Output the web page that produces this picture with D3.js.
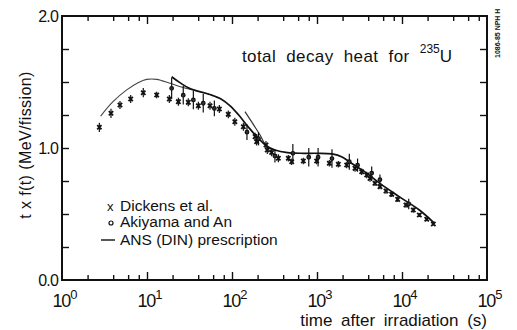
<!DOCTYPE html>
<html>
<head>
<meta charset="utf-8">
<script src="https://cdn.jsdelivr.net/npm/d3@7"></script>
<style>
  body { margin: 0; background: #fff; }
  svg text { font-family: "Liberation Sans", Arial, sans-serif; fill: #111; }
</style>
</head>
<body>
<svg id="chart" width="517" height="330"></svg>
<script>
// decade ticks and labels
const decades = [0, 1, 2, 3, 4, 5];
const minorMults = [2, 4, 6, 8];
const yTicks = [0, 0.25, 0.5, 0.75, 1.0, 1.25, 1.5, 1.75, 2.0];
const yLabels = ["0.0", "1.0", "2.0"];

// Dickens et al. : [time (s), t*f(t), error]
const dickens = [
  [2.75, 1.157, 0.035], [3.77, 1.263, 0.035], [4.81, 1.326, 0.03], [6.43, 1.371, 0.03],
  [9.04, 1.419, 0.035], [13.0, 1.402, 0.025], [18.3, 1.371, 0.03], [23.4, 1.351, 0.03],
  [30.6, 1.346, 0.03], [40.2, 1.32, 0.03], [55.1, 1.32, 0.03], [71.0, 1.295, 0.03],
  [90.4, 1.255, 0.03], [108, 1.199, 0.03], [136, 1.161, 0.03], [187, 1.086, 0.03],
  [195, 1.048, 0.03], [251, 1.023, 0.03], [260, 0.985, 0.03], [293, 0.967, 0.03],
  [351, 0.922, 0.03], [460, 0.922, 0.025], [504, 0.896, 0.025], [690, 0.902, 0.025],
  [991, 0.902, 0.025], [1396, 0.884, 0.025], [1782, 0.877, 0.025], [2236, 0.871, 0.025],
  [2800, 0.846, 0.025], [3357, 0.82, 0.025], [3846, 0.795, 0.025], [4205, 0.77, 0.025],
  [4812, 0.733, 0.02], [5510, 0.707, 0.02], [6483, 0.674, 0.02], [7567, 0.649, 0.02],
  [8897, 0.611, 0.02], [11130, 0.568, 0.02], [13580, 0.53, 0.02], [15990, 0.492, 0.015],
  [19540, 0.46, 0.015], [23360, 0.424, 0.012]
];

// Akiyama and An : [time (s), t*f(t), error]
const akiyama = [
  [19.5, 1.452, 0.08], [26.7, 1.40, 0.07], [35.1, 1.364, 0.07], [45.9, 1.339, 0.07],
  [62, 1.30, 0.06], [150, 1.12, 0.06], [205, 1.07, 0.05], [320, 0.94, 0.05],
  [520, 0.96, 0.07], [800, 0.93, 0.07], [1030, 0.93, 0.07], [1500, 0.92, 0.07],
  [2400, 0.896, 0.06], [3000, 0.87, 0.05], [4400, 0.81, 0.05], [5500, 0.76, 0.04],
  [12000, 0.576, 0.04]
];

// ANS (DIN) prescription, three pieces
const ansEarly = [
  [2.85, 1.242], [3.98, 1.351], [5.77, 1.44], [7.84, 1.495], [9.92, 1.52],
  [13.0, 1.52], [18.7, 1.49], [26, 1.46], [32, 1.445]
];
const ansMain = [
  [19.5, 1.54], [24.4, 1.495], [32, 1.45], [55, 1.405], [75, 1.37], [95, 1.32],
  [120, 1.25], [155, 1.16], [200, 1.08], [250, 1.02], [320, 0.985], [450, 0.965],
  [700, 0.96], [1000, 0.96], [1500, 0.955], [2000, 0.93], [2460, 0.89], [3840, 0.81],
  [5550, 0.73], [9350, 0.63], [16000, 0.53], [24000, 0.43]
];
const ansMid = [
  [142, 1.275], [213, 1.10], [257, 1.01], [320, 0.985]
];

const svg = d3.select("#chart");
const x = d3.scaleLog().domain([1, 1e5]).range([62, 487]);
const y = d3.scaleLinear().domain([0, 2]).range([280, 16]);

const majorT = decades.map(d => Math.pow(10, d));
const minorT = [];
decades.slice(0, -1).forEach(d => minorMults.forEach(m => minorT.push(m * Math.pow(10, d))));

// frame
svg.append("rect")
  .attr("x", x(1)).attr("y", y(2))
  .attr("width", x(1e5) - x(1)).attr("height", y(0) - y(2))
  .attr("fill", "none").attr("stroke", "#111").attr("stroke-width", 2);

function xAxis(gen, yPos, size, values) {
  svg.append("g")
    .attr("transform", `translate(0,${yPos})`)
    .call(gen(x).tickValues(values).tickSizeInner(size).tickSizeOuter(0).tickFormat(""))
    .call(g => g.select(".domain").remove())
    .call(g => g.selectAll("line").attr("stroke", "#111").attr("stroke-width", 1.4));
}
xAxis(d3.axisBottom, y(0), -5, minorT);
xAxis(d3.axisBottom, y(0), -8, majorT.slice(1, -1));
xAxis(d3.axisTop, y(2), -5, minorT);
xAxis(d3.axisTop, y(2), -8, majorT.slice(1, -1));

function yAxis(gen, xPos) {
  svg.append("g")
    .attr("transform", `translate(${xPos},0)`)
    .call(gen(y).tickValues(yTicks.slice(1, -1)).tickSizeInner(-7).tickSizeOuter(0).tickFormat(""))
    .call(g => g.select(".domain").remove())
    .call(g => g.selectAll("line").attr("stroke", "#111").attr("stroke-width", 1.4));
}
yAxis(d3.axisLeft, x(1));
yAxis(d3.axisRight, x(1e5));

// y tick labels
svg.selectAll(".ylab").data(yLabels).enter().append("text")
  .attr("x", x(1) - 4).attr("y", d => y(+d) + 6)
  .attr("text-anchor", "end").attr("font-size", 16).attr("letter-spacing", -0.8)
  .text(d => d);

// x tick labels with superscripts
decades.forEach(d => {
  const t = svg.append("text")
    .attr("x", x(Math.pow(10, d)) + 3).attr("y", 307)
    .attr("text-anchor", "middle").attr("font-size", 18).attr("letter-spacing", -1.2);
  t.append("tspan").text("10");
  t.append("tspan").attr("dy", -8).attr("font-size", 13).attr("letter-spacing", 0).text(d);
});

// axis titles
svg.append("text")
  .attr("x", 487).attr("y", 326)
  .attr("text-anchor", "end").attr("font-size", 17).attr("word-spacing", 4)
  .text("time after irradiation (s)");

svg.append("text")
  .attr("transform", "translate(31,145) rotate(-90)")
  .attr("text-anchor", "middle").attr("font-size", 16).attr("letter-spacing", 0.4)
  .text("t x f(t)  (MeV/fission)");

// title
const title = svg.append("text")
  .attr("x", 242).attr("y", 62).attr("font-size", 17)
  .attr("word-spacing", 5).attr("letter-spacing", 0.4);
title.append("tspan").text("total decay heat for ");
title.append("tspan").attr("dy", -9).attr("font-size", 12).attr("letter-spacing", 0).text("235");
title.append("tspan").attr("dy", 9).text("U");

// small side code
svg.append("text")
  .attr("transform", "translate(500,58) rotate(-90)")
  .attr("font-size", 7).attr("font-weight", "bold")
  .text("1086-85 NPH H");

// prescription curves
const line = d3.line().x(d => x(d[0])).y(d => y(d[1])).curve(d3.curveCatmullRom.alpha(0.5));
svg.append("path").datum(ansEarly).attr("d", line)
  .attr("fill", "none").attr("stroke", "#444").attr("stroke-width", 1.1);
svg.append("path").datum(ansMid).attr("d", line)
  .attr("fill", "none").attr("stroke", "#333").attr("stroke-width", 1.2);
svg.append("path").datum(ansMain).attr("d", line)
  .attr("fill", "none").attr("stroke", "#111").attr("stroke-width", 1.7);

// error bars
function errBars(data) {
  svg.append("g").selectAll("line").data(data).enter().append("line")
    .attr("x1", d => x(d[0])).attr("x2", d => x(d[0]))
    .attr("y1", d => y(d[1] - d[2])).attr("y2", d => y(d[1] + d[2]))
    .attr("stroke", "#111").attr("stroke-width", 1.2);
}
errBars(dickens);
errBars(akiyama);

const cross = d3.symbol().type(d3.symbolX).size(14);
svg.append("g").selectAll("path").data(dickens).enter().append("path")
  .attr("transform", d => `translate(${x(d[0])},${y(d[1])})`)
  .attr("d", cross).attr("stroke", "#111").attr("stroke-width", 1.8).attr("fill", "none");

svg.append("g").selectAll("circle").data(akiyama).enter().append("circle")
  .attr("cx", d => x(d[0])).attr("cy", d => y(d[1])).attr("r", 1.8)
  .attr("fill", "#333").attr("stroke", "#111").attr("stroke-width", 1.2);

// legend
const legend = svg.append("g").attr("font-size", 15.5);
legend.append("text").attr("x", 107).attr("y", 211).attr("font-size", 13).text("x");
legend.append("text").attr("x", 120).attr("y", 211).text("Dickens  et al.");
legend.append("circle").attr("cx", 111).attr("cy", 223).attr("r", 2)
  .attr("fill", "none").attr("stroke", "#111").attr("stroke-width", 1.2);
legend.append("text").attr("x", 120).attr("y", 227).text("Akiyama and An");
legend.append("line").attr("x1", 101).attr("x2", 115).attr("y1", 240).attr("y2", 240)
  .attr("stroke", "#111").attr("stroke-width", 1.4);
legend.append("text").attr("x", 120).attr("y", 245).text("ANS (DIN) prescription");
</script>
</body>
</html>
